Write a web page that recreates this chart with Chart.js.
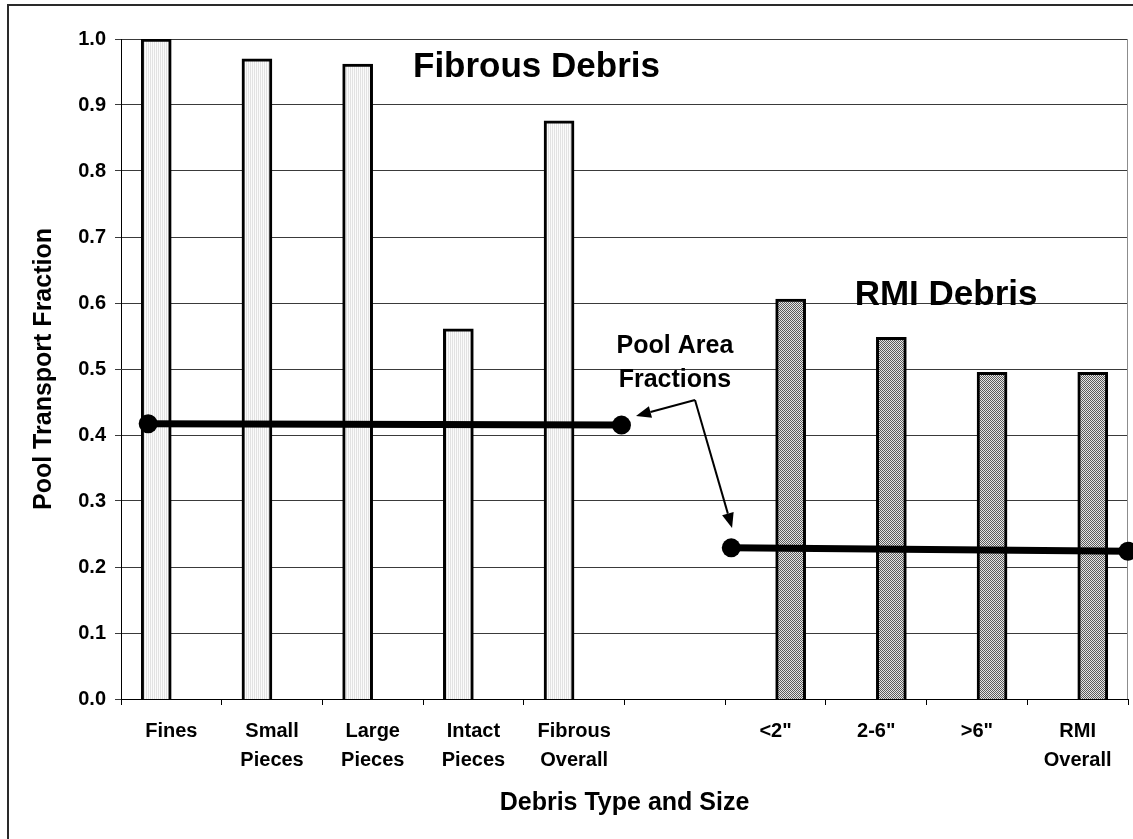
<!DOCTYPE html>
<html>
<head>
<meta charset="utf-8">
<script src="https://cdn.jsdelivr.net/npm/chart.js@4/dist/chart.umd.min.js"></script>
<style>
  html, body { margin: 0; padding: 0; background: #fff; }
  #wrap { position: relative; width: 1133px; height: 839px; }
</style>
</head>
<body>
<div id="wrap"><canvas id="chart" width="1133" height="839"></canvas></div>
<script>
// categories along the x axis (one empty slot between the two groups)
const categories = [
  'Fines', ['Small', 'Pieces'], ['Large', 'Pieces'], ['Intact', 'Pieces'], ['Fibrous', 'Overall'],
  '', '<2"', '2-6"', '>6"', ['RMI', 'Overall']
];
const fibrousValues = [1.0, 0.970, 0.962, 0.561, 0.876, null, null, null, null, null];
const rmiValues = [null, null, null, null, null, null, 0.606, 0.548, 0.495, 0.495];

// pool area fraction lines (x in category units, 0..10)
const fibrousPoolX = [0.27, 4.97];
const fibrousPoolY = [0.417, 0.415];
const rmiPoolX = [6.06, 10.0];
const rmiPoolY = [0.229, 0.224];

const yTicks = [0.0, 0.1, 0.2, 0.3, 0.4, 0.5, 0.6, 0.7, 0.8, 0.9, 1.0];

const FONT = "'Liberation Sans', Arial, sans-serif";

const canvas = document.getElementById('chart');
const ctx = canvas.getContext('2d');

function makePattern(w, h, bg, fg, cells) {
    const c = document.createElement('canvas');
    c.width = w;
    c.height = h;
    const g = c.getContext('2d');
    g.fillStyle = bg;
    g.fillRect(0, 0, w, h);
    g.fillStyle = fg;
    cells.forEach(([x, y]) => g.fillRect(x, y, 1, 1));
    return ctx.createPattern(c, 'repeat');
}

const fibrousFill = makePattern(2, 1, '#fbfbfb', '#e2e2e2', [[0, 0]]);
const rmiFill = makePattern(2, 2, '#e6e6e6', '#5c5c5c', [[0, 0], [1, 1]]);

const toPoints = (xs, ys) => xs.map((x, i) => ({ x: x, y: ys[i] }));

// bars sit on the linear 0..10 axis: category i is centred on i + 0.5,
// fibrous bars just left of centre, RMI bars just right (Excel-style clustering)
const SLOT = 0.15;
const toBars = (values, shift) => values
    .map((v, i) => ({ x: i + 0.5 + shift, y: v }))
    .filter(p => p.y !== null);

// free text and arrows, placed in data units (x: 0..10 categories, y: value)
const annotationPlugin = {
    id: 'annotations',
    beforeDraw(chart) {
        const c = chart.ctx;
        c.save();
        c.fillStyle = '#fff';
        c.fillRect(0, 0, chart.width, chart.height);
        c.restore();
    },
    beforeDatasetsDraw(chart) {
        const c = chart.ctx;
        const a = chart.chartArea;
        c.save();
        c.strokeStyle = '#8c8c8c';
        c.lineWidth = 1;
        c.beginPath();
        c.moveTo(a.right - 0.5, a.top);
        c.lineTo(a.right - 0.5, a.bottom);
        c.stroke();
        c.restore();
    },
    afterDraw(chart) {
        const c = chart.ctx;
        const xs = chart.scales.xl;
        const ys = chart.scales.y;
        const px = v => xs.getPixelForValue(v);
        const py = v => ys.getPixelForValue(v);

        c.save();
        c.fillStyle = '#000';
        c.textAlign = 'center';
        c.textBaseline = 'alphabetic';
        c.font = 'bold 35px ' + FONT;
        c.fillText('Fibrous Debris', px(4.126), py(0.9424));
        c.fillText('RMI Debris', px(8.193), py(0.597));
        c.font = 'bold 25px ' + FONT;
        c.fillText('Pool Area', px(5.501), py(0.524));
        c.fillText('Fractions', px(5.501), py(0.473));

        // arrows from the label to both lines
        const apex = [px(5.70), py(0.453)];
        const tips = [[px(5.114), py(0.4288)], [px(6.068), py(0.259)]];
        c.strokeStyle = '#000';
        c.lineWidth = 2;
        tips.forEach(([tx, ty]) => {
            const ang = Math.atan2(ty - apex[1], tx - apex[0]);
            const len = 15, half = 6;
            const bx = tx - len * Math.cos(ang);
            const by = ty - len * Math.sin(ang);
            c.beginPath();
            c.moveTo(apex[0], apex[1]);
            c.lineTo(bx, by);
            c.stroke();
            c.beginPath();
            c.moveTo(tx, ty);
            c.lineTo(bx + half * Math.sin(ang), by - half * Math.cos(ang));
            c.lineTo(bx - half * Math.sin(ang), by + half * Math.cos(ang));
            c.closePath();
            c.fill();
        });

        // outer frame
        c.strokeStyle = '#2a2a2a';
        c.lineWidth = 2;
        c.strokeRect(8, 5, 1140, 850);
        c.restore();
    }
};

const barStyle = {
    type: 'bar',
    xAxisID: 'xl',
    grouped: false,
    barThickness: 30,
    borderColor: '#000',
    borderWidth: 3,
    borderSkipped: 'start',
    order: 2,
};

const lineStyle = {
    type: 'scatter',
    xAxisID: 'xl',
    yAxisID: 'yl',
    showLine: true,
    borderColor: '#000',
    borderWidth: 7,
    pointRadius: 9.5,
    pointBorderWidth: 0,
    pointBackgroundColor: '#000',
    clip: false,
    order: 0,
};

new Chart(ctx, {
    data: {
        labels: categories,
        datasets: [
            { ...barStyle, label: 'Fibrous', data: toBars(fibrousValues, -SLOT), backgroundColor: fibrousFill },
            { ...barStyle, label: 'RMI', data: toBars(rmiValues, SLOT), backgroundColor: rmiFill },
            { ...lineStyle, label: 'Fibrous pool area', data: toPoints(fibrousPoolX, fibrousPoolY) },
            { ...lineStyle, label: 'RMI pool area', data: toPoints(rmiPoolX, rmiPoolY) },
        ],
    },
    options: {
        responsive: false,
        animation: false,
        layout: { autoPadding: false, padding: { left: 0, top: 39, right: 5, bottom: 0 } },
        plugins: {
            legend: { display: false },
            title: { display: false },
            tooltip: { enabled: false },
        },
        scales: {
            x: {
                type: 'category',
                offset: true,
                grid: {
                    offset: true,
                    drawOnChartArea: false,
                    drawTicks: true,
                    tickLength: 6,
                    color: '#000',
                },
                border: { color: '#000', width: 1 },
                ticks: {
                    autoSkip: false,
                    maxRotation: 0,
                    minRotation: 0,
                    padding: 12,
                    color: '#000',
                    font: { family: FONT, size: 20, weight: 'bold', lineHeight: 1.45 },
                },
                title: {
                    display: true,
                    text: 'Debris Type and Size',
                    color: '#000',
                    padding: { top: 0, bottom: 21 },
                    font: { family: FONT, size: 25, weight: 'bold' },
                },
                afterFit(scale) { scale.height = 140; },
            },
            xl: { type: 'linear', display: false, min: 0, max: 10, offset: false, grid: { offset: false } },
            yl: { type: 'linear', display: false, min: 0, max: 1.0 },
            y: {
                min: 0,
                max: 1.0,
                afterBuildTicks(scale) { scale.ticks = yTicks.map(v => ({ value: v })); },
                grid: { color: '#3a3a3a', lineWidth: 1, tickLength: 6 },
                border: { color: '#000', width: 1 },
                ticks: {
                    padding: 9,
                    color: '#000',
                    font: { family: FONT, size: 20, weight: 'bold' },
                    callback: v => Number(v).toFixed(1),
                },
                title: {
                    display: true,
                    text: 'Pool Transport Fraction',
                    color: '#000',
                    padding: { top: 29, bottom: 0 },
                    font: { family: FONT, size: 25, weight: 'bold' },
                },
                afterFit(scale) { scale.width = 121; },
            },
        },
    },
    plugins: [annotationPlugin],
});
</script>
</body>
</html>
